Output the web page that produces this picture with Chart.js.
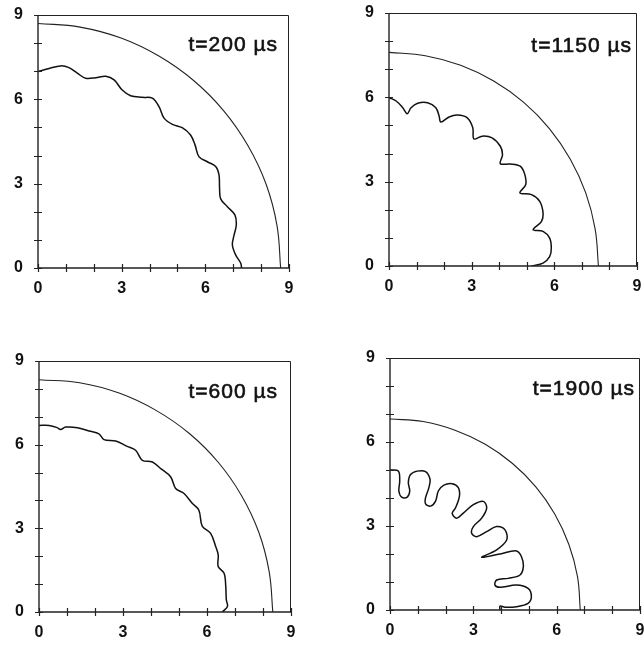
<!DOCTYPE html>
<html>
<head>
<meta charset="utf-8">
<script src="https://cdn.jsdelivr.net/npm/chart.js@4.4.0/dist/chart.umd.min.js"></script>
<style>
  html, body { margin: 0; padding: 0; background: #fff; overflow: hidden; width: 644px; height: 651px; }
  canvas { position: absolute; }
</style>
</head>
<body>
<canvas id="p200"></canvas>
<canvas id="p1150"></canvas>
<canvas id="p600"></canvas>
<canvas id="p1900"></canvas>
<script>
// axis ticks (every unit, labelled every 3)
const tickValues = [0, 1, 2, 3, 4, 5, 6, 7, 8, 9];
const tickLabels = [0, 3, 6, 9];
const panelTimes = [200, 1150, 600, 1900];

// outer front
const outer200 = [[0,8.7],[1.51,8.57],[2.98,8.18],[4.35,7.53],[5.59,6.66],[6.66,5.59],[7.53,4.35],[8.18,2.98],[8.57,1.51],[8.7,0]];
const outer1150 = [[0,7.6],[1.32,7.48],[2.6,7.14],[3.8,6.58],[4.89,5.82],[5.82,4.89],[6.58,3.8],[7.14,2.6],[7.48,1.32],[7.6,0]];
const outer600 = [[0,8.33],[1.45,8.22],[2.86,7.85],[4.18,7.23],[5.37,6.4],[6.4,5.37],[7.23,4.18],[7.85,2.86],[8.22,1.45],[8.35,0]];
const outer1900 = [[0,6.82],[1.19,6.73],[2.34,6.42],[3.43,5.92],[4.4,5.24],[5.25,4.4],[5.93,3.43],[6.44,2.34],[6.75,1.19],[6.85,0]];

// inner (perturbed) interface
const inner200 = [[0,6.99],[0.4,7.1],[0.81,7.19],[1.11,7.13],[1.41,6.93],[1.71,6.75],[2.07,6.77],[2.43,6.82],[2.73,6.69],[3.02,6.33],[3.32,6.13],[3.74,6.07],[4.1,6.04],[4.34,5.74],[4.52,5.33],[4.82,5.11],[5.17,4.99],[5.47,4.73],[5.63,4.38],[5.77,3.96],[6.07,3.78],[6.37,3.61],[6.49,3.31],[6.51,2.84],[6.55,2.46],[6.79,2.18],[7.06,1.89],[7.11,1.53],[7.03,1.17],[6.97,0.82],[7.09,0.46],[7.27,0.17],[7.3,0]];
const inner1150 = [[0,5.99],[0.26,5.87],[0.5,5.63],[0.66,5.42],[0.8,5.63],[1.04,5.79],[1.4,5.81],[1.7,5.63],[1.82,5.33],[1.88,5.12],[2.18,5.3],[2.48,5.37],[2.84,5.27],[3.04,4.92],[3.08,4.52],[3.38,4.62],[3.74,4.56],[4.04,4.26],[4.12,3.96],[4.04,3.64],[4.39,3.63],[4.76,3.55],[4.93,3.25],[4.96,2.89],[4.75,2.6],[5.17,2.54],[5.47,2.3],[5.59,1.88],[5.53,1.58],[5.23,1.29],[5.59,1.23],[5.83,0.99],[5.89,0.63],[5.83,0.33],[5.59,0.1],[5.17,0]];
const inner600 = [[0,6.69],[0.36,6.69],[0.65,6.61],[0.77,6.54],[0.95,6.63],[1.37,6.61],[1.79,6.49],[2.14,6.39],[2.32,6.18],[2.74,6.13],[3.15,5.94],[3.45,5.8],[3.69,5.44],[4.05,5.38],[4.35,5.14],[4.7,4.85],[4.88,4.43],[5.18,4.25],[5.48,3.89],[5.71,3.65],[5.83,3.08],[6.13,2.82],[6.31,2.35],[6.4,2.05],[6.4,1.63],[6.61,1.39],[6.67,0.92],[6.69,0.44],[6.73,0.2],[6.55,0]];
const inner1900 = [[0,5.0],[0.3,4.96],[0.35,4.61],[0.32,4.25],[0.42,4.03],[0.62,4.03],[0.71,4.25],[0.66,4.55],[0.74,4.84],[0.98,4.96],[1.28,4.94],[1.44,4.67],[1.4,4.37],[1.28,4.01],[1.28,3.79],[1.46,3.71],[1.64,3.89],[1.74,4.25],[1.94,4.46],[2.24,4.51],[2.46,4.37],[2.5,4.07],[2.36,3.65],[2.24,3.45],[2.4,3.28],[2.64,3.46],[3.0,3.76],[3.36,3.88],[3.48,3.64],[3.3,3.28],[3.0,2.98],[2.94,2.74],[3.12,2.62],[3.48,2.8],[3.84,2.98],[4.14,2.86],[4.2,2.5],[3.84,2.15],[3.3,1.88],[3.96,2.0],[4.55,2.11],[4.73,1.91],[4.8,1.55],[4.68,1.25],[4.26,1.13],[3.84,1.07],[3.78,0.89],[3.96,0.81],[4.55,0.89],[4.97,0.77],[5.09,0.48],[4.97,0.24],[4.55,0.12],[4.14,0.1],[3.96,0.14],[3.96,0]];

const FONT = '"Liberation Sans", Arial, Helvetica, sans-serif';

// frame, crossing tick marks and the time label
const framePlugin = {
  id: 'frame',
  afterDraw(chart, args, opts) {
    const { ctx, chartArea: a, scales: { x, y } } = chart;
    ctx.save();
    ctx.strokeStyle = '#222';
    ctx.lineWidth = 1;
    ctx.beginPath();
    ctx.moveTo(a.left, a.top + 0.5);
    ctx.lineTo(a.right - 0.5, a.top + 0.5);
    ctx.lineTo(a.right - 0.5, a.bottom);
    ctx.stroke();
    ctx.lineWidth = 1.4;
    ctx.beginPath();
    ctx.moveTo(a.left, a.top);
    ctx.lineTo(a.left, a.bottom);
    ctx.lineTo(a.right, a.bottom);
    ctx.stroke();
    ctx.lineWidth = 1.2;
    ctx.beginPath();
    tickValues.forEach(v => {
      const px = Math.round(x.getPixelForValue(v)) + 0.5;
      ctx.moveTo(px, a.bottom - 4);
      ctx.lineTo(px, a.bottom + 4);
      const py = Math.round(y.getPixelForValue(v)) + 0.5;
      ctx.moveTo(a.left - 4, py);
      ctx.lineTo(a.left + 4, py);
    });
    ctx.stroke();

    // time label, slightly heavier like the scanned original
    ctx.fillStyle = '#111';
    ctx.strokeStyle = '#111';
    ctx.lineWidth = 0.6;
    ctx.font = '21px ' + FONT;
    ctx.textAlign = 'right';
    ctx.textBaseline = 'alphabetic';
    if ('letterSpacing' in ctx) ctx.letterSpacing = '1px';
    ctx.fillText(opts.text, a.right - opts.dx, a.top + opts.dy);
    ctx.strokeText(opts.text, a.right - opts.dx, a.top + opts.dy);
    ctx.restore();
  }
};

function axis(isY) {
  return {
    type: 'linear',
    min: 0,
    max: 9,
    grid: { display: false, drawTicks: false },
    border: { display: false },
    ticks: {
      stepSize: 1,
      autoSkip: false,
      maxRotation: 0,
      padding: isY ? 15 : 11,
      color: '#111',
      font: { family: FONT, size: 16, weight: 'bold' },
      callback: v => tickLabels.includes(v) ? String(v) : ''
    },
    afterFit: s => { if (isY) s.width = 40; else s.height = 34; }
  };
}

// scale padding (half label + tick padding) is added by Chart.js, so give room for it
const PAD_TOP = 28, PAD_RIGHT = 20;

function makePanel(id, box, time, outer, inner, dx, dy) {
  const c = document.getElementById(id);
  c.width = box.r - box.l + 40 + PAD_RIGHT;
  c.height = box.b - box.t + PAD_TOP + 34;
  c.style.left = (box.l - 40) + 'px';
  c.style.top = (box.t - PAD_TOP) + 'px';
  new Chart(c, {
    type: 'scatter',
    data: {
      datasets: [
        { data: outer.map(p => ({ x: p[0], y: p[1] })), showLine: true, borderColor: '#222', borderWidth: 1.1, pointRadius: 0, tension: 0.4, fill: false },
        { data: inner.map(p => ({ x: p[0], y: p[1] })), showLine: true, borderColor: '#111', borderWidth: 1.5, pointRadius: 0, tension: 0.35, fill: false }
      ]
    },
    options: {
      responsive: false,
      animation: false,
      layout: { padding: { top: PAD_TOP, right: PAD_RIGHT, left: 0, bottom: 0 } },
      plugins: {
        legend: { display: false },
        tooltip: { enabled: false },
        frame: { text: 't=' + time + ' µs', dx: dx, dy: dy }
      },
      scales: { x: axis(false), y: axis(true) }
    },
    plugins: [framePlugin]
  });
}

makePanel('p200', { l: 38, t: 15, r: 289, b: 268 }, panelTimes[0], outer200, inner200, 11, 36);
makePanel('p1150', { l: 389, t: 13, r: 637, b: 266 }, panelTimes[1], outer1150, inner1150, 5, 39);
makePanel('p600', { l: 39, t: 361, r: 291, b: 612 }, panelTimes[2], outer600, inner600, 13, 37);
makePanel('p1900', { l: 390, t: 358, r: 640, b: 610 }, panelTimes[3], outer1900, inner1900, 5, 37);
</script>
</body>
</html>
